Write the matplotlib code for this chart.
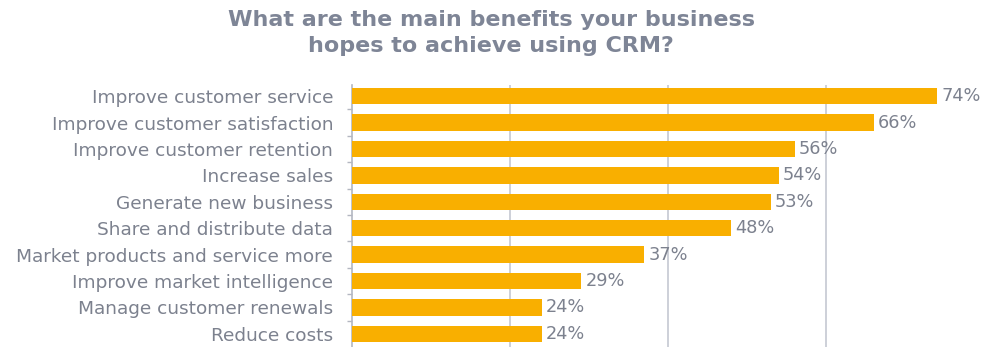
import numpy as np
import matplotlib
matplotlib.use("Agg")
import matplotlib.pyplot as plt

benefits = ["Improve customer service", "Improve customer satisfaction",
            "Improve customer retention", "Increase sales",
            "Generate new business", "Share and distribute data",
            "Market products and service more", "Improve market intelligence",
            "Manage customer renewals", "Reduce costs"]
percent = [74, 66, 56, 54, 53, 48, 37, 29, 24, 24]
grid_at = [20, 40, 60]

bar_col = "#F9AF00"
text_col = "#7C818E"
title_col = "#7E8596"
line_col = "#C9CDD6"

fig = plt.figure(figsize=(9.82, 3.47), dpi=100)
ax = fig.add_axes([352 / 982, 0, 1 - 352 / 982, 1 - 85 / 347])

y = np.arange(len(benefits))
ax.barh(y, percent, height=0.62, color=bar_col, zorder=3)

for yi, v in zip(y, percent):
    ax.annotate(f"{v}%", (v, yi), xytext=(3, 0), textcoords="offset points",
                ha="left", va="center", fontsize=12.8, color=text_col,
                family="DejaVu Sans", zorder=4, annotation_clip=False)

ax.set_xlim(0, 79.7)
ax.set_ylim(9.5, -0.42)
ax.set_yticks(y)
ax.set_yticklabels(benefits, fontsize=13.3, color=text_col, family="DejaVu Sans")
ax.set_yticks(y[:-1] + 0.5, minor=True)
ax.tick_params(axis="y", which="major", length=0, pad=13.5)
ax.tick_params(axis="y", which="minor", length=3.6, width=1, color="#B3B7C1", direction="out")

ax.set_xticks(grid_at)
ax.tick_params(axis="x", length=0, labelbottom=False)
ax.grid(axis="x", color=line_col, linewidth=1.3, zorder=0)

for s in ["top", "right", "bottom"]:
    ax.spines[s].set_visible(False)
ax.spines["left"].set_color("#B3B7C1")
ax.spines["left"].set_linewidth(1.2)

fig.text(0.5, 1 - 33 / 347, "What are the main benefits your business\nhopes to achieve using CRM?",
         ha="center", va="center", multialignment="center", fontsize=16,
         fontweight="bold", color=title_col, family="DejaVu Sans", linespacing=1.35)

fig.savefig("out.png", dpi=100)
